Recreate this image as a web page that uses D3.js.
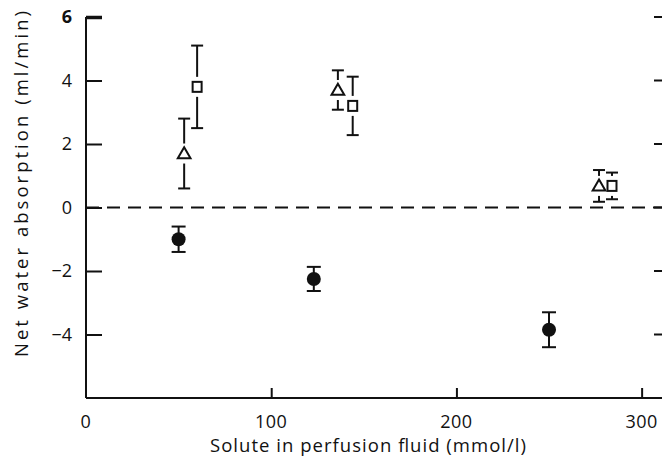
<!DOCTYPE html>
<html><head><meta charset="utf-8">
<script src="https://cdn.jsdelivr.net/npm/d3@7"></script>
<style>body{margin:0;background:#fff}svg{display:block}text{font-family:"Open Sans",sans-serif;fill:#111}</style>
</head><body><svg id="c" width="662" height="460"></svg>
<script>
// Data
const xTicks = [0, 100, 200, 300];
const yTicks = [6, 4, 2, 0, -2, -4];
const circleX = [50, 123, 250];
const circleY = [-1.0, -2.25, -3.85];
const circleErr = [0.4, 0.38, 0.55];
const triX = [53, 136, 277];
const triY = [1.7, 3.7, 0.68];
const triErr = [1.1, 0.62, 0.5];
const sqX = [60, 144, 284];
const sqY = [3.8, 3.2, 0.68];
const sqErr = [1.3, 0.92, 0.42];

const svg = d3.select("#c");
const x = d3.scaleLinear().domain([0, 311]).range([86, 662]);
const y = d3.scaleLinear().domain([-6, 6]).range([398, 17]);
const ink = "#111";

// zero dashed line
svg.append("line").attr("x1", x(0)).attr("x2", 662).attr("y1", y(0)).attr("y2", y(0))
  .attr("stroke", ink).attr("stroke-width", 2).attr("stroke-dasharray", "13,8");

// left axis
const yAxis = d3.axisRight(y).tickValues(yTicks).tickSize(16).tickFormat("");
const gy = svg.append("g").attr("transform", `translate(${x(0)},0)`).call(yAxis);
gy.select(".domain").attr("stroke", ink).attr("stroke-width", 2).attr("d", `M0,${y(6)}V${y(-6)}`);
gy.selectAll(".tick line").attr("stroke", ink).attr("stroke-width", 2);
gy.selectAll(".tick").filter(d => d === 6).select("line").attr("stroke-width", 3.5);

// y tick labels
svg.append("g").selectAll("text").data(yTicks).join("text")
  .attr("x", 72).attr("y", d => y(d)).attr("dy", "0.36em").attr("text-anchor", "end")
  .attr("font-size", 18).attr("font-weight", d => d === 6 ? "bold" : "normal")
  .text(d => d < 0 ? "\u2212" + Math.abs(d) : d);

// right-side ticks
svg.append("g").selectAll("line").data(yTicks).join("line")
  .attr("x1", 654).attr("x2", 662).attr("y1", d => y(d)).attr("y2", d => y(d))
  .attr("stroke", ink).attr("stroke-width", 2);

// bottom axis
const xAxis = d3.axisTop(x).tickValues(xTicks.filter(d => d > 0)).tickSize(10).tickFormat("");
const gx = svg.append("g").attr("transform", `translate(0,${y(-6)})`).call(xAxis);
gx.select(".domain").attr("stroke", ink).attr("stroke-width", 2).attr("d", `M${x(0)},0H662`);
gx.selectAll(".tick line").attr("stroke", ink).attr("stroke-width", 2);

svg.append("g").selectAll("text").data(xTicks).join("text")
  .attr("x", d => x(d)).attr("y", 428).attr("text-anchor", "middle")
  .attr("font-size", 18).attr("letter-spacing", 0.5).text(d => d);

// axis titles
svg.append("text").attr("x", 368).attr("y", 452).attr("text-anchor", "middle")
  .attr("font-size", 18.5).attr("textLength", 316).attr("lengthAdjust", "spacing")
  .text("Solute in perfusion fluid (mmol/l)");
svg.append("text").attr("transform", "translate(28,184) rotate(-90)").attr("text-anchor", "middle")
  .attr("font-size", 18.5).attr("textLength", 346).attr("lengthAdjust", "spacing")
  .text("Net water absorption (ml/min)");

// error bars helper
function errBars(xs, ys, es, cap, gap) {
  const g = svg.append("g").attr("stroke", ink).attr("stroke-width", 2).attr("fill", "none");
  xs.forEach((xv, i) => {
    const cx = x(xv), top = y(ys[i] + es[i]), bot = y(ys[i] - es[i]), cy = y(ys[i]);
    if (gap > 0) {
      g.append("line").attr("x1", cx).attr("x2", cx).attr("y1", top).attr("y2", cy - gap);
      g.append("line").attr("x1", cx).attr("x2", cx).attr("y1", cy + gap).attr("y2", bot);
    } else {
      g.append("line").attr("x1", cx).attr("x2", cx).attr("y1", top).attr("y2", bot);
    }
    g.append("line").attr("x1", cx - cap).attr("x2", cx + cap).attr("y1", top).attr("y2", top);
    g.append("line").attr("x1", cx - cap).attr("x2", cx + cap).attr("y1", bot).attr("y2", bot);
  });
}

errBars(circleX, circleY, circleErr, 7, 0);
errBars(triX, triY, triErr, 6, 10);
errBars(sqX, sqY, sqErr, 6, 10);

// circles
svg.append("g").selectAll("circle").data(circleX).join("circle")
  .attr("cx", d => x(d)).attr("cy", (d, i) => y(circleY[i])).attr("r", 7).attr("fill", ink);

// triangles
const tri = d3.symbol().type(d3.symbolTriangle).size(70);
svg.append("g").selectAll("path").data(triX).join("path")
  .attr("transform", (d, i) => `translate(${x(d)},${y(triY[i]) + 1})`)
  .attr("d", tri).attr("fill", "#fff").attr("stroke", ink).attr("stroke-width", 2);

// squares
svg.append("g").selectAll("rect").data(sqX).join("rect")
  .attr("x", d => x(d) - 4.5).attr("y", (d, i) => y(sqY[i]) - 5).attr("width", 9).attr("height", 10)
  .attr("fill", "#fff").attr("stroke", ink).attr("stroke-width", 2);
</script></body></html>
